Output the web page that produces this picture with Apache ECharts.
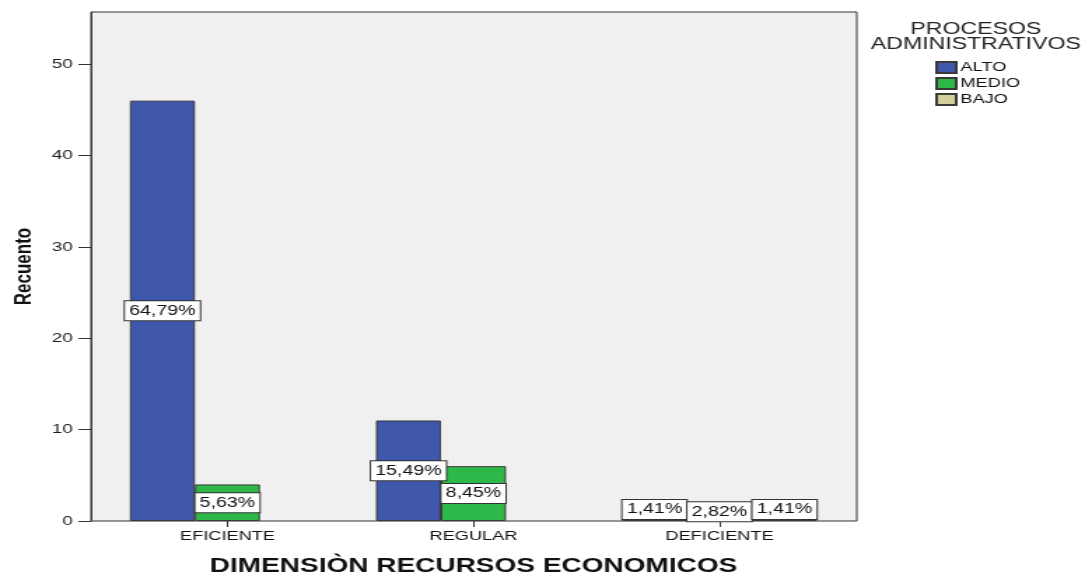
<!DOCTYPE html>
<html>
<head>
<meta charset="utf-8">
<script src="https://cdn.jsdelivr.net/npm/echarts@6/dist/echarts.min.js"></script>
<style>
html,body{margin:0;padding:0;background:#fff;overflow:hidden;width:1086px;height:572px;}
#chart{width:776px;height:572px;transform:scaleX(1.4);transform-origin:0 0;}
</style>
</head>
<body>
<div id="chart"></div>
<script>
const categories = ['EFICIENTE', 'REGULAR', 'DEFICIENTE'];
const alto = [46, 11, 1];
const medio = [4, 6, 2];
const bajo = [null, null, 1];
const seriesNames = ['ALTO', 'MEDIO', 'BAJO'];
const yTicks = [0, 10, 20, 30, 40, 50];
const yMax = 55.7;

const colors = ['#3F57AB', '#2FB84A', '#D5CF9C'];
const FONT = 'Liberation Sans, Arial, sans-serif';

const allValues = [alto, medio, bajo];
const total = allValues.flat().reduce((s, v) => s + (v || 0), 0);

function pct(v) {
  return (v / total * 100).toFixed(2).replace('.', ',') + '%';
}

function makeData(arr) {
  return arr.map(v => v == null ? null : {
    value: v,
    label: { offset: v <= 1 ? [0, -7] : [0, 0] }
  });
}

const series = allValues.map((arr, i) => ({
  name: seriesNames[i],
  type: 'bar',
  xAxisIndex: 1,
  yAxisIndex: 1,
  barGap: '0%',
  barCategoryGap: '20.7%',
  data: makeData(arr),
  itemStyle: { color: colors[i], borderColor: '#3a3a3a', borderWidth: 1 },
  label: {
    show: true,
    position: 'inside',
    formatter: p => pct(p.value),
    color: '#111',
    fontFamily: FONT,
    fontSize: 14,
    backgroundColor: '#fff',
    borderColor: '#333',
    borderWidth: 1,
    padding: [2, 3, 1, 3],
    lineHeight: 16
  },
  emphasis: { disabled: true }
}));

const chart = echarts.init(document.getElementById('chart'));
chart.setOption({
  animation: false,
  textStyle: { fontFamily: FONT },
  title: {
    text: 'PROCESOS\nADMINISTRATIVOS',
    left: 697,
    textAlign: 'center',
    top: 22,
    padding: 0,
    textStyle: { fontFamily: FONT, fontSize: 16.5, fontWeight: 'normal', color: '#222', lineHeight: 15 }
  },
  legend: {
    orient: 'vertical',
    left: 668,
    top: 61,
    padding: 0,
    itemWidth: 14,
    itemHeight: 11,
    itemGap: 3,
    icon: 'rect',
    data: seriesNames,
    textStyle: { fontFamily: FONT, fontSize: 13, color: '#111', padding: [0, 0, 0, -2] }
  },
  grid: [
    { left: 65, right: 164, top: 12, bottom: 51, outerBoundsMode: 'none', containLabel: false, show: true, backgroundColor: '#F0F0F0', borderColor: '#333', borderWidth: 1 },
    { left: 74.6, right: 174.2, top: 12, bottom: 51, outerBoundsMode: 'none', containLabel: false }
  ],
  xAxis: [
    { gridIndex: 0, type: 'value', show: false, min: 0, max: 1 },
    {
      gridIndex: 1,
      type: 'category',
      data: categories,
      axisLine: { show: false },
      axisTick: { show: true, alignWithLabel: true, length: 6, lineStyle: { color: '#333' } },
      axisLabel: { fontFamily: FONT, fontSize: 13, color: '#111', margin: 9 },
      name: 'DIMENSIÒN RECURSOS ECONOMICOS',
      nameLocation: 'middle',
      nameGap: 35,
      nameTextStyle: { fontFamily: FONT, fontSize: 20, fontWeight: 'bold', color: '#111' }
    }
  ],
  yAxis: [
    {
      gridIndex: 0,
      type: 'value',
      min: 0,
      max: yMax,
      axisLine: { show: true, lineStyle: { color: '#333' } },
      axisTick: { show: true, length: 9, lineStyle: { color: '#333' }, customValues: yTicks },
      axisLabel: { fontFamily: FONT, fontSize: 13.5, color: '#222', margin: 13, customValues: yTicks },
      splitLine: { show: false },
      name: 'Recuento',
      nameLocation: 'middle',
      nameRotate: 90,
      nameGap: 39,
      nameTextStyle: { fontFamily: FONT, fontSize: 17, fontWeight: 'bold', color: '#111' }
    },
    { gridIndex: 1, type: 'value', min: 0, max: yMax, show: false }
  ],
  series: series
});
</script>
</body>
</html>
